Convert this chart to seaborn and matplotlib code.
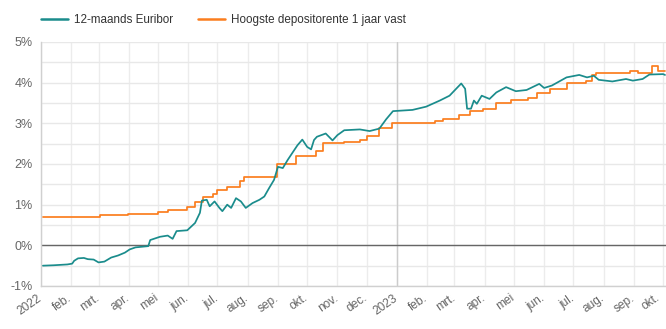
import matplotlib
matplotlib.use("Agg")
import matplotlib.pyplot as plt
import matplotlib.transforms as mtransforms
from matplotlib.ticker import MultipleLocator, FuncFormatter
import seaborn as sns
import pandas as pd

euribor_dates = [
    "2022-01-03", "2022-01-14", "2022-01-28", "2022-02-02", "2022-02-04", "2022-02-08",
    "2022-02-14", "2022-02-18", "2022-02-24", "2022-03-01", "2022-03-07", "2022-03-14",
    "2022-03-21", "2022-03-28", "2022-04-02", "2022-04-08", "2022-04-21", "2022-04-23",
    "2022-05-03", "2022-05-11", "2022-05-16", "2022-05-20", "2022-05-31", "2022-06-08",
    "2022-06-13", "2022-06-15", "2022-06-20", "2022-06-23", "2022-06-28", "2022-07-03",
    "2022-07-06", "2022-07-11", "2022-07-15", "2022-07-20", "2022-07-25", "2022-07-30",
    "2022-08-06", "2022-08-13", "2022-08-18", "2022-08-23", "2022-08-28", "2022-09-01",
    "2022-09-06", "2022-09-11", "2022-09-16", "2022-09-21", "2022-09-26", "2022-10-01",
    "2022-10-05", "2022-10-08", "2022-10-11", "2022-10-20", "2022-10-27", "2022-11-01",
    "2022-11-08", "2022-11-24", "2022-12-04", "2022-12-14", "2022-12-21", "2022-12-28",
    "2023-01-17", "2023-01-31", "2023-02-14", "2023-02-24", "2023-03-06", "2023-03-08",
    "2023-03-12", "2023-03-14", "2023-03-18", "2023-03-21", "2023-03-24", "2023-03-29",
    "2023-04-06", "2023-04-13", "2023-04-23", "2023-05-03", "2023-05-14", "2023-05-27",
    "2023-06-01", "2023-06-09", "2023-06-24", "2023-07-07", "2023-07-15", "2023-07-22",
    "2023-07-27", "2023-08-10", "2023-08-24", "2023-08-31", "2023-09-10", "2023-09-17",
    "2023-10-01", "2023-10-03",
]
euribor_values = [
    -0.50, -0.49, -0.47, -0.45, -0.38, -0.32,
    -0.31, -0.34, -0.35, -0.42, -0.40, -0.30,
    -0.25, -0.18, -0.10, -0.05, -0.02, 0.13,
    0.21, 0.24, 0.16, 0.35, 0.37, 0.55,
    0.80, 1.10, 1.12, 0.96, 1.08, 0.92,
    0.84, 1.00, 0.92, 1.16, 1.08, 0.92,
    1.04, 1.12, 1.20, 1.41, 1.61, 1.93,
    1.90, 2.10, 2.28, 2.46, 2.60, 2.42,
    2.36, 2.59, 2.67, 2.75, 2.58, 2.71,
    2.83, 2.85, 2.81, 2.87, 3.10, 3.30,
    3.33, 3.41, 3.56, 3.68, 3.93, 3.98,
    3.85, 3.36, 3.36, 3.56, 3.48, 3.68,
    3.60, 3.76, 3.89, 3.79, 3.82, 3.97,
    3.87, 3.93, 4.13, 4.19, 4.13, 4.17,
    4.07, 4.03, 4.09, 4.05, 4.09, 4.20,
    4.21, 4.19,
]

deposit_dates = [
    "2022-01-03", "2022-03-02", "2022-03-31", "2022-05-01", "2022-05-11", "2022-05-31",
    "2022-06-08", "2022-06-16", "2022-06-26", "2022-07-01", "2022-07-11", "2022-07-24",
    "2022-07-28", "2022-08-31", "2022-09-20", "2022-10-10", "2022-10-17", "2022-11-08",
    "2022-11-24", "2022-12-01", "2022-12-14", "2022-12-27", "2023-02-09", "2023-02-17",
    "2023-03-06", "2023-03-17", "2023-03-30", "2023-04-13", "2023-04-28", "2023-05-15",
    "2023-05-25", "2023-06-07", "2023-06-24", "2023-07-14", "2023-07-20", "2023-07-24",
    "2023-08-28", "2023-09-05", "2023-09-20", "2023-09-26", "2023-10-03",
]
deposit_values = [
    0.70, 0.74, 0.77, 0.82, 0.88, 0.94,
    1.06, 1.18, 1.26, 1.35, 1.43, 1.59,
    1.69, 1.99, 2.20, 2.32, 2.52, 2.54,
    2.59, 2.68, 2.89, 3.01, 3.06, 3.10,
    3.20, 3.30, 3.36, 3.50, 3.57, 3.62,
    3.74, 3.85, 3.99, 4.03, 4.20, 4.23,
    4.29, 4.24, 4.40, 4.29, 4.29,
]

series_names = ["12-maands Euribor", "Hoogste depositorente 1 jaar vast"]
month_labels = ["2022", "feb.", "mrt.", "apr.", "mei", "jun.", "jul.", "aug.", "sep.",
                "okt.", "nov.", "dec.", "2023", "feb.", "mrt.", "apr.", "mei", "jun.",
                "jul.", "aug.", "sep.", "okt."]

teal = "#1a8c8c"
orange = "#fb7d1e"

sns.set_theme(style="white")
plt.rcParams["font.family"] = ["Liberation Sans", "DejaVu Sans"]

df_e = pd.DataFrame({"date": pd.to_datetime(euribor_dates), "value": euribor_values})
df_d = pd.DataFrame({"date": pd.to_datetime(deposit_dates), "value": deposit_values})

fig = plt.figure(figsize=(6.66, 3.29), dpi=100)
ax = fig.add_axes([41 / 666, 43 / 329, 625 / 666, 244 / 329])

sns.lineplot(data=df_e, x="date", y="value", ax=ax, color=teal, linewidth=1.25,
             label=series_names[0], zorder=4)
sns.lineplot(data=df_d, x="date", y="value", ax=ax, color=orange, linewidth=1.25,
             drawstyle="steps-post", label=series_names[1], zorder=3)

ax.set_xlim(pd.Timestamp("2022-01-01"), pd.Timestamp("2023-10-04"))
ax.set_ylim(-1, 5)

ax.yaxis.set_major_locator(MultipleLocator(1))
ax.yaxis.set_minor_locator(MultipleLocator(0.5))
ax.yaxis.set_major_formatter(FuncFormatter(lambda v, p: f"{int(round(v))}%"))

month_ticks = pd.date_range("2022-01-01", "2023-10-01", freq="MS")
ax.set_xticks(month_ticks)
ax.set_xticklabels([])

# rotated month labels, anchored at their tick (right end), nudged left a little
base = mtransforms.blended_transform_factory(ax.transData, ax.transAxes)
n = len(month_ticks)
for i, (t, lab) in enumerate(zip(month_ticks, month_labels)):
    dx = -4 if i < n - 1 else -8
    tr = base + mtransforms.ScaledTranslation(dx / 100, -6 / 100, fig.dpi_scale_trans)
    ax.text(t, 0, lab, transform=tr, rotation=35, ha="right", va="top",
            rotation_mode="anchor", fontsize=8.6, color="#666666")

ax.grid(True, which="both", axis="y", color="#e8e8e8", linewidth=1)
ax.grid(True, which="major", axis="x", color="#ececec", linewidth=1)
ax.set_axisbelow(True)
ax.axhline(0, color="#666666", linewidth=1, zorder=2)
ax.axvline(pd.Timestamp("2023-01-01"), color="#cccccc", linewidth=1, zorder=1)

for s in ["top", "right"]:
    ax.spines[s].set_visible(False)
for s in ["left", "bottom"]:
    ax.spines[s].set_color("#d0d0d0")
    ax.spines[s].set_linewidth(1)

ax.tick_params(axis="both", which="both", length=0, colors="#666666", labelsize=9)
ax.tick_params(axis="y", pad=6)
ax.set_xlabel("")
ax.set_ylabel("")

leg = ax.legend(loc="lower left", bbox_to_anchor=(0.0, 1.065), ncol=2, frameon=False,
                fontsize=8.4, handlelength=2.3, handletextpad=0.55, columnspacing=2.1,
                borderaxespad=0, borderpad=0)
for tx in leg.get_texts():
    tx.set_color("#333333")
for l in leg.get_lines():
    l.set_linewidth(1.8)

fig.savefig("out.png", dpi=100)
